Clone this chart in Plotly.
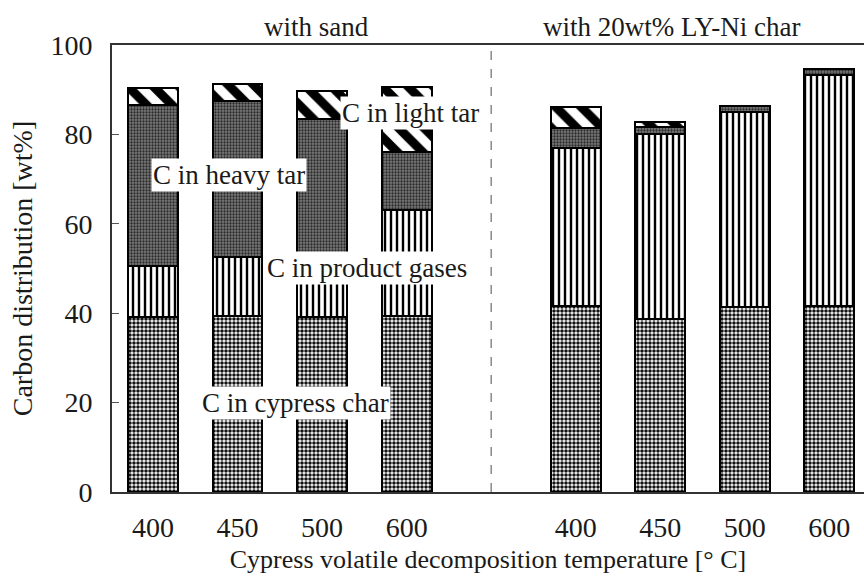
import plotly.graph_objects as go

# Decomposition temperatures for the two bed materials
temperatures = ["400", "450", "500", "600", "400", "450", "500", "600"]
positions = [0, 1, 2, 3, 5, 6, 7, 8]

# Carbon distribution [wt%] per fraction (first four: with sand, last four: with 20wt% LY-Ni char)
c_char = [39.2, 39.4, 39.2, 39.4, 41.7, 38.7, 41.4, 41.6]
c_gases = [11.4, 13.1, 13.8, 23.7, 35.2, 41.5, 43.7, 51.7]
c_heavy_tar = [36.0, 35.0, 30.4, 13.0, 4.5, 1.4, 1.3, 1.3]
c_light_tar = [3.8, 3.7, 6.2, 14.4, 4.8, 1.2, 0.0, 0.0]

y_ticks = [0, 20, 40, 60, 80, 100]

FONT = '"Liberation Serif", "Times New Roman", Times, serif'
INK = "#1a1a1a"
BAR_W = 0.59

fig = go.Figure()

series = [
    ("C in cypress char", c_char,
     dict(shape=".", fgcolor="#111111", bgcolor="white", size=4, solidity=0.62, fgopacity=1)),
    ("C in product gases", c_gases,
     dict(shape="|", fgcolor="#000000", bgcolor="white", size=6, solidity=0.4, fgopacity=1)),
    ("C in heavy tar", c_heavy_tar,
     dict(shape=".", fgcolor="#2a2a2a", bgcolor="#7a7a7a", size=3, solidity=0.45, fgopacity=1)),
    ("C in light tar", c_light_tar,
     dict(shape="\\", fgcolor="#000000", bgcolor="white", size=18, solidity=0.5, fgopacity=1)),
]

for name, vals, pat in series:
    fig.add_trace(go.Bar(
        x=positions, y=vals, name=name, width=BAR_W,
        marker=dict(color="white", pattern=pat, line=dict(color="#000000", width=2)),
        showlegend=False,
    ))

# Divider between the two bed-material groups
fig.add_shape(type="line", x0=4, x1=4, y0=0, y1=100, xref="x", yref="y",
              line=dict(color="#777777", width=1.3, dash="dash"), layer="below")

# Group headings above the frame
for text, xpos in [("with sand", 1.93), ("with 20wt% LY-Ni char", 6.14)]:
    fig.add_annotation(x=xpos, y=1.04, xref="x", yref="paper", text=text, showarrow=False,
                       font=dict(family=FONT, size=27, color=INK), xanchor="center", yanchor="middle")

# Fraction labels written over the bars
labels = [
    ("C in light tar", 3.04, 84.9),
    ("C in heavy tar", 0.90, 70.9),
    ("C in product gases", 2.53, 50.1),
    ("C in cypress char", 1.68, 20.0),
]
for text, xpos, ypos in labels:
    fig.add_annotation(x=xpos, y=ypos, xref="x", yref="y", text=text, showarrow=False,
                       font=dict(family=FONT, size=27, color=INK), bgcolor="white",
                       borderpad=1, xanchor="center", yanchor="middle")

fig.update_layout(
    barmode="stack",
    width=864, height=583,
    margin=dict(l=112, r=0, t=45, b=91),
    paper_bgcolor="white", plot_bgcolor="white",
    font=dict(family=FONT, size=27, color=INK),
    bargap=0,
)
fig.update_xaxes(
    range=[-0.485, 8.41], tickmode="array", tickvals=positions, ticktext=temperatures,
    ticks="", showline=True, linecolor="#333333", linewidth=2, mirror=True,
    showgrid=False, zeroline=False, ticklabelstandoff=9,
    title=dict(text="Cypress volatile decomposition temperature [° C]", standoff=8,
               font=dict(family=FONT, size=26, color=INK)),
    tickfont=dict(family=FONT, size=28, color=INK),
)
fig.update_yaxes(
    range=[0, 100], tickvals=y_ticks, ticks="inside", ticklen=7, tickcolor="#555555",
    showline=True, linecolor="#333333", linewidth=2, mirror=False,
    showgrid=False, zeroline=False, ticklabelstandoff=12,
    title=dict(text="Carbon distribution [wt%]", standoff=10,
               font=dict(family=FONT, size=28, color=INK)),
    tickfont=dict(family=FONT, size=28, color=INK),
)

fig.write_html("out.html")
